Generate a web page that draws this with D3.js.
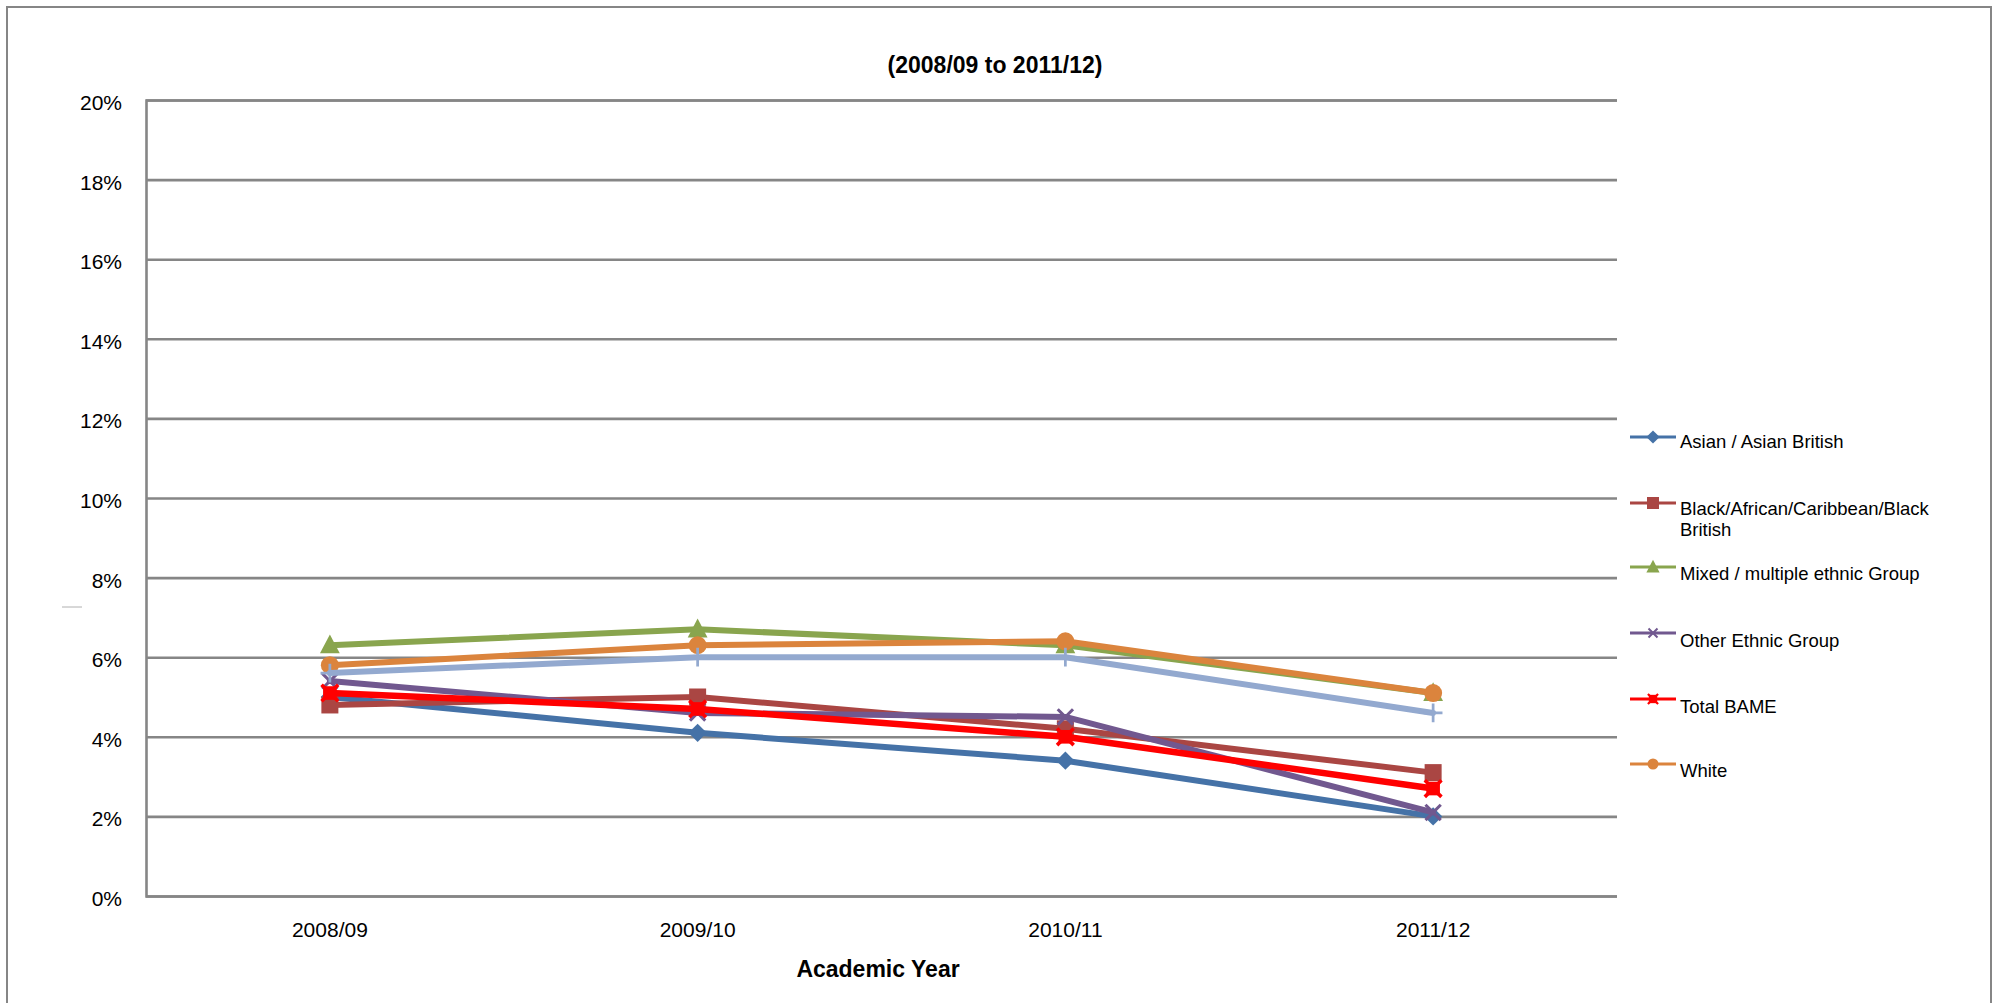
<!DOCTYPE html>
<html>
<head>
<meta charset="utf-8">
<script src="https://cdn.jsdelivr.net/npm/d3@7"></script>
<style>
  html, body { margin: 0; padding: 0; background: #fff; }
  svg { display: block; font-family: "Liberation Sans", Arial, sans-serif; }
</style>
</head>
<body>
<svg id="chart" width="1993" height="1003"></svg>
<script>
// ---- data (percent) ----
const categories = ["2008/09", "2009/10", "2010/11", "2011/12"];
const asian      = [5.0, 4.1, 3.4, 2.0];
const black      = [4.8, 5.0, 4.2, 3.1];
const mixed      = [6.3, 6.7, 6.3, 5.1];
const other      = [5.4, 4.6, 4.5, 2.1];
const totalBame  = [5.1, 4.7, 4.0, 2.7];
const white      = [5.8, 6.3, 6.4, 5.1];
const unlabelled = [5.6, 6.0, 6.0, 4.6];   // 7th series, no legend entry visible
const yTicks = [0, 2, 4, 6, 8, 10, 12, 14, 16, 18, 20];
const title = "(2008/09 to 2011/12)";
const xTitle = "Academic Year";

const series = [
  { name: "Asian / Asian British", values: asian, color: "#4572A7", marker: "diamond", legend: true },
  { name: "Black/African/Caribbean/Black British", values: black, color: "#AA4643", marker: "square", legend: true },
  { name: "Mixed / multiple ethnic Group", values: mixed, color: "#89A54E", marker: "triangle", legend: true },
  { name: "Other Ethnic Group", values: other, color: "#71588F", marker: "x", legend: true },
  { name: "Total BAME", values: totalBame, color: "#FF0000", marker: "star", legend: true },
  { name: "White", values: white, color: "#DB843D", marker: "circle", legend: true },
  { name: "", values: unlabelled, color: "#93A9CF", marker: "plus", legend: false }
];

// ---- layout ----
const svg = d3.select("#chart");
const plot = { left: 146, right: 1617, top: 100, bottom: 896 };
const gridColor = "#868686";

const x = d3.scaleBand().domain(categories).range([plot.left, plot.right]);
const y = d3.scaleLinear().domain([0, 20]).range([plot.bottom, plot.top]);
const cx = c => x(c) + x.bandwidth() / 2;

// outer frame
svg.append("rect")
  .attr("x", 7).attr("y", 7).attr("width", 1984).attr("height", 1010)
  .attr("fill", "none").attr("stroke", gridColor).attr("stroke-width", 2);

// stray tiny mark
svg.append("line").attr("x1", 62).attr("x2", 82).attr("y1", 607).attr("y2", 607)
  .attr("stroke", "#b0b0b0").attr("stroke-width", 1);

// title
svg.append("text").attr("x", 995).attr("y", 73).attr("text-anchor", "middle")
  .attr("font-size", 23).attr("font-weight", "bold").attr("fill", "#000").text(title);

// gridlines
const yAxis = d3.axisLeft(y).tickValues(yTicks).tickSize(-(plot.right - plot.left))
  .tickFormat(d => d + "%").tickPadding(24);
const gy = svg.append("g").attr("transform", `translate(${plot.left},0)`).call(yAxis);
gy.select(".domain").attr("stroke", gridColor).attr("stroke-width", 2.6);
gy.selectAll(".tick line").attr("stroke", gridColor).attr("stroke-width", 2.6);
gy.selectAll(".tick text").attr("font-size", 21).attr("fill", "#000")
  .attr("font-family", "Liberation Sans, Arial, sans-serif").attr("dy", "0.45em");

// x axis labels
const xAxis = d3.axisBottom(x).tickSize(0).tickPadding(26);
const gx = svg.append("g").attr("transform", `translate(0,${plot.bottom})`).call(xAxis);
gx.select(".domain").remove();
gx.selectAll(".tick text").attr("font-size", 21).attr("fill", "#000")
  .attr("font-family", "Liberation Sans, Arial, sans-serif");

// x title
svg.append("text").attr("x", 878).attr("y", 977).attr("text-anchor", "middle")
  .attr("font-size", 23).attr("font-weight", "bold").attr("fill", "#000").text(xTitle);

// ---- marker drawing ----
function drawMarker(g, type, color, s) {
  if (type === "diamond") {
    g.append("path").attr("d", d3.symbol(d3.symbolSquare, (s * 0.72) ** 2)())
      .attr("transform", "rotate(45)").attr("fill", color);
  } else if (type === "square") {
    g.append("rect").attr("x", -s / 2).attr("y", -s / 2).attr("width", s).attr("height", s)
      .attr("fill", color);
  } else if (type === "triangle") {
    const h = s, w = s * 1.1;
    g.append("path").attr("d", `M0,${-h * 0.6}L${w / 2},${h * 0.45}L${-w / 2},${h * 0.45}Z`)
      .attr("fill", color);
  } else if (type === "x") {
    const r = s * 0.45;
    g.append("path").attr("d", `M${-r},${-r}L${r},${r}M${-r},${r}L${r},${-r}`)
      .attr("stroke", color).attr("stroke-width", Math.max(2, s * 0.18)).attr("fill", "none");
  } else if (type === "star") {
    const r = s * 0.42;
    g.append("rect").attr("x", -r * 0.9).attr("y", -r * 0.9).attr("width", r * 1.8).attr("height", r * 1.8)
      .attr("fill", color);
    g.append("path").attr("d", `M${-r * 1.1},${-r * 1.1}L${r * 1.1},${r * 1.1}M${-r * 1.1},${r * 1.1}L${r * 1.1},${-r * 1.1}`)
      .attr("stroke", color).attr("stroke-width", Math.max(2, s * 0.2));
  } else if (type === "circle") {
    g.append("circle").attr("r", s / 2).attr("fill", color);
  } else if (type === "plus") {
    const r = s * 0.55;
    g.append("path").attr("d", `M${-r},0L${r},0M0,${-r}L0,${r}`)
      .attr("stroke", color).attr("stroke-width", Math.max(2, s * 0.16)).attr("fill", "none");
  }
}

// ---- lines ----
const line = d3.line().x((d, i) => cx(categories[i])).y(d => y(d));
const markerSize = { diamond: 18, square: 17, triangle: 18, x: 17, star: 18, circle: 18, plus: 17 };

series.forEach(sr => {
  const g = svg.append("g");
  g.append("path").datum(sr.values).attr("d", line)
    .attr("fill", "none").attr("stroke", sr.color)
    .attr("stroke-width", sr.marker === "star" ? 6.5 : 6)
    .attr("stroke-linejoin", "round").attr("stroke-linecap", "round");
  sr.values.forEach((v, i) => {
    const mg = g.append("g").attr("transform", `translate(${cx(categories[i])},${y(v)})`);
    drawMarker(mg, sr.marker, sr.color, markerSize[sr.marker]);
  });
});

// ---- legend ----
const legendItems = series.filter(s => s.legend);
const legendY = [437, 503, 567, 633, 699, 764];
const legendTextY = [448, 515, 580, 647, 713, 777];
const legendMarkerSize = { diamond: 13, square: 12, triangle: 12, x: 10, star: 11, circle: 11, plus: 11 };
legendItems.forEach((sr, i) => {
  const g = svg.append("g");
  g.append("line").attr("x1", 1630).attr("x2", 1676).attr("y1", legendY[i]).attr("y2", legendY[i])
    .attr("stroke", sr.color).attr("stroke-width", 3);
  const mg = g.append("g").attr("transform", `translate(1653,${legendY[i]})`);
  drawMarker(mg, sr.marker, sr.color, legendMarkerSize[sr.marker]);
  const t = g.append("text").attr("x", 1680).attr("y", legendTextY[i]).attr("font-size", 18.5).attr("fill", "#000");
  if (sr.name.startsWith("Black/")) {
    t.append("tspan").attr("x", 1680).text("Black/African/Caribbean/Black");
    t.append("tspan").attr("x", 1680).attr("dy", 21).text("British");
  } else {
    t.text(sr.name);
  }
});
</script>
</body>
</html>
